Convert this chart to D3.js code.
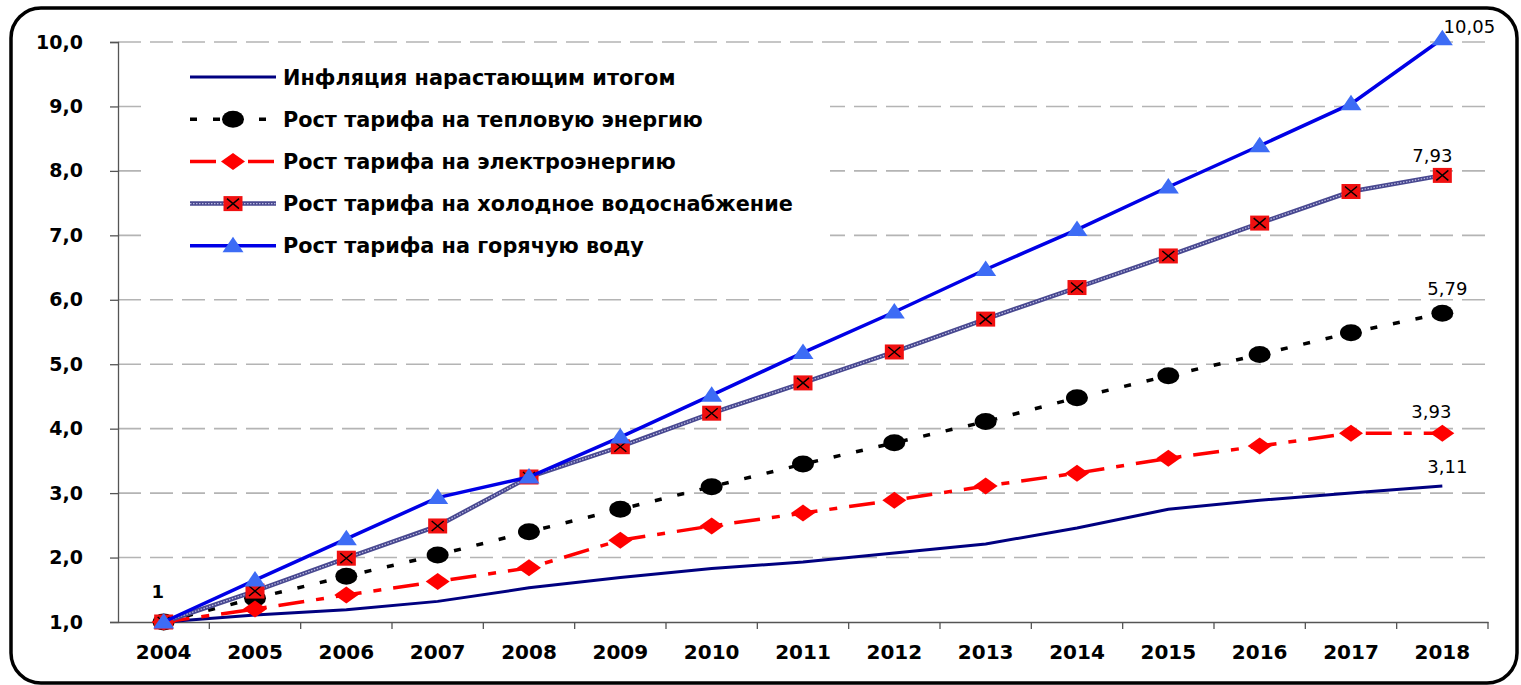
<!DOCTYPE html>
<html lang="ru">
<head>
<meta charset="UTF-8" />
<title>Рост тарифов и инфляция</title>
<script src="https://cdn.jsdelivr.net/npm/d3@7"></script>
<style>
  body { margin: 0; background: #fff; }
  svg text { font-family: "DejaVu Sans", sans-serif; font-weight: bold; fill: #000; }
</style>
</head>
<body>
<div id="container"></div>
<script>
// data
const years = [2004, 2005, 2006, 2007, 2008, 2009, 2010, 2011, 2012, 2013, 2014, 2015, 2016, 2017, 2018]
const inflation   = [1, 1.11, 1.19, 1.32, 1.53, 1.69, 1.83, 1.93, 2.07, 2.21, 2.46, 2.75, 2.89, 3.00, 3.11]
const heat        = [1, 1.37, 1.71, 2.04, 2.40, 2.75, 3.10, 3.45, 3.78, 4.11, 4.48, 4.82, 5.15, 5.49, 5.79]
const electricity = [1, 1.20, 1.42, 1.63, 1.84, 2.27, 2.49, 2.69, 2.89, 3.11, 3.31, 3.54, 3.73, 3.93, 3.93]
const coldWater   = [1, 1.48, 1.99, 2.49, 3.25, 3.72, 4.24, 4.71, 5.19, 5.70, 6.19, 6.68, 7.19, 7.68, 7.93]
const hotWater    = [1, 1.65, 2.29, 2.93, 3.25, 3.87, 4.52, 5.18, 5.81, 6.47, 7.09, 7.75, 8.39, 9.04, 10.05]
const yTicks = [1, 2, 3, 4, 5, 6, 7, 8, 9, 10]
const names = [
  'Инфляция нарастающим итогом',
  'Рост тарифа на тепловую энергию',
  'Рост тарифа на электроэнергию',
  'Рост тарифа на холодное водоснабжение',
  'Рост тарифа на горячую воду'
]

const width = 1521
const height = 685
const marginLeft = 118
const marginRight = 33
const marginTop = 42
const marginBottom = 63

const fmt = v => String(v).replace('.', ',')

const x = d3.scaleBand()
  .domain(years)
  .range([marginLeft, width - marginRight])

const y = d3.scaleLinear()
  .domain([1, 10])
  .range([height - marginBottom, marginTop])

const svg = d3.select('#container').append('svg')
  .attr('width', width)
  .attr('height', height)

// frame
svg.append('rect')
  .attr('x', 11).attr('y', 8)
  .attr('width', 1506).attr('height', 675)
  .attr('rx', 30)
  .attr('fill', '#fff')
  .attr('stroke', '#000')
  .attr('stroke-width', 3.5)

// grid
svg.append('g')
  .selectAll('line')
  .data(yTicks.slice(1))
  .join('line')
  .attr('x1', marginLeft).attr('x2', width - marginRight)
  .attr('y1', d => y(d)).attr('y2', d => y(d))
  .attr('stroke', '#b4b4b4')
  .attr('stroke-width', 1.6)
  .attr('stroke-dasharray', '23,9')

// legend background hides the grid
svg.append('rect')
  .attr('x', 142).attr('y', 54)
  .attr('width', 688).attr('height', 214)
  .attr('fill', '#fff')

// y axis
const yAxis = svg.append('g')
  .attr('transform', `translate(${marginLeft},0)`)
  .call(d3.axisLeft(y).tickValues(yTicks).tickSize(8).tickPadding(27)
    .tickFormat(d => d.toFixed(1).replace('.', ',')))
yAxis.select('.domain').attr('stroke', '#555').attr('stroke-width', 1.3)
yAxis.selectAll('.tick line').attr('stroke', '#555').attr('stroke-width', 1.3)
yAxis.selectAll('text').style('font-size', '19px')

// x axis
const xAxis = svg.append('g')
  .attr('transform', `translate(0,${y(1)})`)
  .call(d3.axisBottom(x).tickSize(0).tickPadding(23))
xAxis.select('.domain').attr('stroke', '#555').attr('stroke-width', 1.3)
xAxis.selectAll('text').style('font-size', '20px')
xAxis.append('g')
  .selectAll('line')
  .data(years)
  .join('line')
  .attr('x1', d => x(d) + x.bandwidth()).attr('x2', d => x(d) + x.bandwidth())
  .attr('y1', 0).attr('y2', 7)
  .attr('stroke', '#555').attr('stroke-width', 1.3)

// markers
const markers = {
  circle: g => g.append('ellipse').attr('rx', 11).attr('ry', 8.5).attr('fill', '#000'),
  diamond: g => g.append('path').attr('d', 'M-12,0L0,-8.5L12,0L0,8.5Z').attr('fill', '#ff0000'),
  square: g => {
    g.append('rect').attr('x', -9.5).attr('y', -7.5).attr('width', 19).attr('height', 15)
      .attr('fill', '#f01010')
    g.append('path').attr('d', 'M-6,-5L6,5M-6,5L6,-5')
      .attr('stroke', '#000').attr('stroke-width', 1.4)
  },
  triangle: g => g.append('path').attr('d', 'M0,-9L10.5,6.5L-10.5,6.5Z').attr('fill', '#3d6cf5')
}

const series = [
  { name: names[0], values: inflation, color: '#000080', width: 3, dash: null, marker: null },
  { name: names[1], values: heat, color: '#000', width: 3.5, dash: '7,16', marker: 'circle' },
  { name: names[2], values: electricity, color: '#ff0000', width: 3.5, dash: '26,12,8,12', marker: 'diamond' },
  { name: names[3], values: coldWater, color: '#484890', width: 4.5, dash: null, marker: 'square', texture: true },
  { name: names[4], values: hotWater, color: '#0000e6', width: 3.5, dash: null, marker: 'triangle' }
]

// end labels: offsets relative to the last point
const endLabelOffset = [[5, -13], [5, -18], [-11, -15], [-10, -13], [27, -6]]

const line = d3.line()
  .x((d, i) => x(years[i]) + x.bandwidth() / 2)
  .y(d => y(d))

series.forEach((s, si) => {
  const g = svg.append('g')
  g.append('path')
    .attr('d', line(s.values))
    .attr('fill', 'none')
    .attr('stroke', s.color)
    .attr('stroke-width', s.width)
    .attr('stroke-dasharray', s.dash)
  if (s.texture) {
    g.append('path')
      .attr('d', line(s.values))
      .attr('fill', 'none')
      .attr('stroke', '#b8b8e0')
      .attr('stroke-width', 1.3)
      .attr('stroke-dasharray', '1.5,1.5')
  }
  if (s.marker) {
    s.values.forEach((v, i) => {
      const m = g.append('g')
        .attr('transform', `translate(${x(years[i]) + x.bandwidth() / 2},${y(v)})`)
      markers[s.marker](m)
    })
  }
  const last = s.values.length - 1
  const [dx, dy] = endLabelOffset[si]
  svg.append('text')
    .attr('x', x(years[last]) + x.bandwidth() / 2 + dx)
    .attr('y', y(s.values[last]) + dy)
    .attr('text-anchor', 'middle')
    .style('font-size', '18px')
    .style('font-weight', 'normal')
    .text(fmt(s.values[last]))
})

// start label
svg.append('text')
  .attr('x', x(years[0]) + x.bandwidth() / 2 - 6)
  .attr('y', y(inflation[0]) - 24)
  .attr('text-anchor', 'middle')
  .style('font-size', '18px')
  .text(fmt(inflation[0]))

// legend
const legend = svg.append('g')
  .selectAll('g')
  .data(series)
  .join('g')
  .attr('transform', (d, i) => `translate(190,${77 + i * 42.2})`)

legend.each(function (s) {
  const g = d3.select(this)
  g.append('line')
    .attr('x1', 0).attr('x2', 86)
    .attr('stroke', s.color)
    .attr('stroke-width', s.width)
    .attr('stroke-dasharray', s.dash)
  if (s.texture) {
    g.append('line')
      .attr('x1', 0).attr('x2', 86)
      .attr('stroke', '#b8b8e0')
      .attr('stroke-width', 1.3)
      .attr('stroke-dasharray', '1.5,1.5')
  }
  if (s.marker) markers[s.marker](g.append('g').attr('transform', 'translate(43,0)'))
  g.append('text')
    .attr('x', 93)
    .attr('dy', '0.36em')
    .style('font-size', '20.8px')
    .text(s.name)
})
</script>
</body>
</html>
